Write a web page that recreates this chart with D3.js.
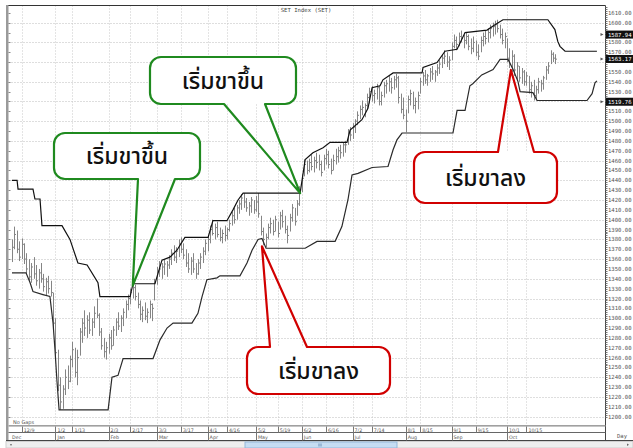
<!DOCTYPE html>
<html><head><meta charset="utf-8">
<script src="https://cdn.jsdelivr.net/npm/d3@7"></script>
<style>body{margin:0;background:#fff}svg{display:block}</style>
</head><body><svg id="c" width="633" height="448"></svg>
<script>
// ---- data ----
const highs=[1380,1393,1389,1378,1381,1376,1366,1360,1356,1362,
1354,1350,1356,1345,1341,1343,1338,1326,1300,1268,
1240,1232,1248,1252,1262,1276,1270,1268,1290,1300,
1308,1303,1306,1300,1312,1320,1305,1290,1280,1276,
1284,1288,1292,1300,1306,1303,1310,1318,1324,1330,
1336,1334,1326,1318,1312,1316,1310,1318,1315,1340,
1352,1358,1356,1360,1358,1364,1370,1374,1372,1380,
1382,1376,1370,1366,1362,1366,1356,1360,1366,1372,
1380,1384,1394,1400,1396,1398,1392,1390,1394,1392,
1400,1408,1412,1415,1420,1426,1427,1422,1418,1423,
1420,1424,1427,1404,1392,1386,1396,1402,1400,1404,
1398,1408,1410,1404,1394,1406,1416,1412,1420,1434,
1446,1461,1460,1462,1466,1464,1468,1466,1460,1466,
1472,1470,1462,1466,1472,1474,1476,1478,1480,1492,
1494,1498,1502,1510,1516,1521,1518,1528,1534,1536,
1532,1538,1536,1530,1540,1542,1546,1544,1546,1548,
1546,1528,1524,1512,1526,1532,1530,1524,1530,1544,
1550,1552,1548,1554,1556,1552,1558,1562,1568,1572,
1570,1566,1580,1588,1586,1590,1592,1588,1590,1588,
1584,1586,1582,1578,1586,1590,1592,1594,1598,1600,
1602,1603,1598,1594,1590,1584,1574,1572,1568,1560,
1556,1554,1552,1550,1546,1540,1542,1536,1544,1542,
1546,1556,1560,1572,1570,1568];
const lows=[1357,1370,1366,1358,1360,1355,1345,1338,1336,1340,
1333,1330,1336,1327,1323,1325,1322,1290,1258,1226,
1207,1208,1222,1228,1235,1250,1240,1232,1262,1275,
1282,1280,1284,1282,1290,1300,1282,1268,1260,1258,
1264,1268,1272,1282,1288,1286,1292,1300,1308,1314,
1320,1318,1310,1298,1296,1298,1295,1300,1297,1318,
1334,1342,1340,1344,1342,1350,1354,1358,1356,1362,
1366,1360,1352,1346,1344,1346,1340,1344,1350,1356,
1364,1368,1376,1384,1380,1382,1378,1376,1378,1380,
1388,1394,1396,1400,1406,1410,1412,1408,1404,1407,
1406,1408,1402,1384,1374,1372,1380,1386,1384,1388,
1382,1390,1392,1386,1376,1388,1398,1394,1404,1414,
1428,1444,1446,1448,1450,1448,1452,1450,1444,1450,
1456,1452,1446,1450,1456,1458,1462,1464,1468,1476,
1480,1482,1488,1496,1502,1506,1504,1512,1518,1520,
1518,1522,1516,1516,1524,1528,1530,1528,1532,1534,
1518,1508,1502,1489,1508,1516,1512,1508,1512,1528,
1536,1538,1536,1540,1542,1540,1546,1548,1554,1558,
1555,1552,1562,1574,1572,1576,1580,1574,1578,1572,
1568,1570,1566,1562,1570,1576,1578,1580,1584,1586,
1588,1590,1584,1578,1574,1560,1554,1550,1546,1542,
1540,1538,1536,1536,1528,1524,1521,1522,1528,1530,
1532,1542,1548,1558,1560,1558];
const closes=[1372,1385,1370,1362,1375,1360,1350,1342,1352,1345,
1338,1346,1340,1332,1337,1330,1326,1295,1265,1232,
1215,1228,1240,1236,1258,1268,1245,1260,1286,1295,
1290,1298,1288,1296,1305,1303,1286,1272,1266,1270,
1280,1272,1288,1296,1292,1300,1306,1314,1320,1326,
1331,1322,1314,1304,1308,1302,1306,1314,1310,1336,
1348,1350,1352,1355,1354,1360,1366,1362,1368,1376,
1370,1364,1356,1350,1358,1350,1345,1356,1362,1368,
1376,1380,1390,1386,1392,1385,1382,1386,1384,1390,
1396,1404,1400,1412,1416,1422,1418,1412,1414,1420,
1410,1418,1406,1388,1380,1382,1392,1396,1388,1400,
1386,1404,1398,1390,1384,1402,1412,1398,1416,1428,
1442,1456,1450,1458,1454,1460,1458,1456,1448,1462,
1466,1456,1450,1460,1464,1470,1468,1476,1476,1488,
1486,1494,1500,1506,1512,1514,1516,1524,1530,1526,
1528,1534,1520,1526,1536,1538,1540,1534,1542,1544,
1524,1512,1506,1500,1522,1528,1516,1520,1526,1540,
1546,1542,1546,1550,1548,1550,1554,1558,1564,1566,
1560,1562,1576,1582,1578,1586,1584,1582,1586,1576,
1574,1580,1570,1566,1582,1586,1584,1590,1594,1596,
1598,1594,1588,1582,1586,1564,1558,1566,1552,1556,
1544,1550,1540,1546,1532,1536,1526,1532,1540,1538,
1544,1552,1556,1568,1564,1563];

// channel lines: vertices (bar index, value)
const upperIdx=[0,2.1,2.5,8.7,9.5,11.6,12.4,20.7,24,27.3,31.1,35.6,36.4,48.9,50.1,59.2,62.1,65.4,68.3,71.6,81.2,83.2,89,91.5,93.6,95.7,119.3,121.4,124.6,128.8,131.7,138.7,140,144.9,147.4,149.1,152.4,153.6,157.8,169.8,170.2,176,179.3,184.3,187.6,196.7,200,203.3,221.9,224.8,226,226.9,229,242.2];
const upperVal=[1440,1440,1431,1431,1421,1421,1394,1394,1380,1356,1354,1336,1322,1322,1335,1335,1359,1362,1369,1382,1382,1399,1399,1410,1420,1427,1427,1461,1468,1473,1478.5,1478.5,1491,1501.5,1513,1534,1536,1542,1549,1549,1554.5,1559.5,1571,1573,1590,1592.5,1598,1603,1603,1593,1581,1576,1571,1571];
const lowerIdx=[0,5.8,7.5,8.7,12.8,15.7,17,17.8,18.6,19.5,39.8,41.4,43.9,46,58.4,61.3,64.2,66.7,74.5,77,78.7,80.7,84.9,86.1,94.4,97.3,99.4,101.9,103.5,105.2,121.4,126.3,133.8,136.6,139.1,140.8,143.3,149.1,155.7,157.8,159.4,161.5,182.6,184.3,187.6,189.6,190.8,194.5,199.2,202.1,205.4,207.5,209.5,210.4,215.7,217.4,238.1,240.2,241.4,242.2];
const lowerVal=[1346,1346,1336,1327,1324,1322,1295,1268,1237,1207,1207,1240,1242,1259,1259,1278,1290,1295,1295,1305,1322,1339,1341,1343,1343,1356,1369,1380,1381,1371,1371,1378,1378,1393,1420,1445.5,1447,1453,1454,1471,1481,1488,1488,1511,1511,1536,1538,1547,1552.5,1562.7,1562.7,1552.5,1540.5,1530,1529,1521,1521,1528,1539,1541];

const dateTickIdx=[4,18,25,40,49,60,70,81,89,101,110,120,130,141,149,163,169,182,192,205,213];
const dateTickLabels=["12/9","1/2","1/13","2/3","2/17","3/3","3/17","4/1","4/16","5/2","5/19","6/2","6/16","7/2","7/14","8/1","8/15","9/1","9/15","10/1","10/15"];
const monthIdx=[0,18,40,60,81,101,120,141,163,182,205];
const monthLabels=["Dec","Jan","Feb","Mar","Apr","May","Jun","Jul","Aug","Sep","Oct"];
const tagValues=[1587.94,1563.17,1519.76];
const tagLabels=["1587.94","1563.17","1519.76"];

const calloutTexts=["เริ่มขาขึ้น","เริ่มขาขึ้น","เริ่มขาลง","เริ่มขาลง"];
const calloutTipIdx=[50,119.3,103.5,206.6];
const calloutTipVal=[1333,1427,1373,1552];

// ---- layout ----
const svg=d3.select("#c");
const x=d3.scaleLinear().domain([0,1]).range([12,14.415]);
const y=d3.scaleLinear().domain([1200,1600]).range([416.7,22.7]);
const L=8.5, R=605.5, T=5.5, B=425.5;

// plot gridlines
const grid=svg.append("g");
grid.selectAll("line.h").data(d3.range(1200,1601,20)).join("line")
  .attr("x1",L).attr("x2",R).attr("y1",d=>Math.round(y(d))+0.5).attr("y2",d=>Math.round(y(d))+0.5)
  .attr("stroke","#bdbdbd").attr("stroke-dasharray","1,2");
grid.selectAll("line.v").data(dateTickIdx).join("line")
  .attr("x1",d=>Math.round(x(d))+0.5).attr("x2",d=>Math.round(x(d))+0.5).attr("y1",T).attr("y2",B)
  .attr("stroke","#c8c8c8").attr("stroke-dasharray","1,2");

// bars
const bars=svg.append("g").attr("stroke","#858585").attr("stroke-width",1);
highs.forEach((h,i)=>{
  const xi=Math.round(x(i))+0.5;
  bars.append("line").attr("x1",xi).attr("x2",xi).attr("y1",y(h)).attr("y2",y(lows[i]));
  bars.append("line").attr("x1",xi).attr("x2",xi+1.5).attr("y1",y(closes[i])).attr("y2",y(closes[i]));
});

// channel lines
const line=d3.line().x(d=>x(d[0])).y(d=>y(d[1]));
svg.append("path").attr("d",line(upperIdx.map((d,i)=>[d,upperVal[i]])))
  .attr("fill","none").attr("stroke","#111").attr("stroke-width",1.2);
svg.append("path").attr("d",line(lowerIdx.map((d,i)=>[d,lowerVal[i]])))
  .attr("fill","none").attr("stroke","#2a2a2a").attr("stroke-width",1.2);

// frame
svg.append("line").attr("x1",6).attr("x2",R).attr("y1",T).attr("y2",T).attr("stroke","#333");
svg.append("rect").attr("x",6).attr("y",5).attr("width",2.5).attr("height",436).attr("fill","#9a9a9a");
svg.append("g").selectAll("line").data(d3.range(1200,1611,10)).join("line")
  .attr("x1",8.5).attr("x2",10.5).attr("y1",d=>Math.round(y(d))+0.5).attr("y2",d=>Math.round(y(d))+0.5)
  .attr("stroke","#888");
svg.append("line").attr("x1",R).attr("x2",R).attr("y1",T).attr("y2",441).attr("stroke","#444");

// right axis
const ax=svg.append("g");
ax.selectAll("line.mn").data(d3.range(1200,1617,2)).join("line")
  .attr("x1",R).attr("x2",R+2).attr("y1",d=>Math.round(y(d))+0.5).attr("y2",d=>Math.round(y(d))+0.5).attr("stroke","#777");
const tagYs=tagValues.map(v=>y(v));
const labelVals=d3.range(1200,1611,10).filter(v=>tagYs.every(t=>Math.abs(y(v)-t)>6));
ax.selectAll("text").data(labelVals).join("text")
  .attr("x",608).attr("y",d=>y(d)+2).attr("font-family","DejaVu Sans Mono").attr("font-size",5.6)
  .attr("fill","#555").text(d=>d3.format(".2f")(d));
tagValues.forEach((v,i)=>{
  const ty=y(v);
  ax.append("rect").attr("x",606).attr("y",ty-4).attr("width",27).attr("height",8).attr("fill","#111");
  ax.append("text").attr("x",608).attr("y",ty+2).attr("font-family","DejaVu Sans Mono").attr("font-size",5.6)
    .attr("fill","#fff").text(tagLabels[i]);
  ax.append("path").attr("d",`M${R-5},${ty-1.5}L${R-2},${ty}L${R-5},${ty+1.5}Z`).attr("fill","#555");
});

// title
svg.append("text").attr("x",306).attr("y",11.5).attr("text-anchor","middle")
  .attr("font-family","DejaVu Sans Mono").attr("font-size",5.6).attr("fill","#444").text("SET Index (SET)");

// bottom rows
svg.append("text").attr("x",13).attr("y",423.5).attr("font-family","DejaVu Sans").attr("font-size",5)
  .attr("fill","#555").text("No  Gaps");
svg.append("rect").attr("x",8.5).attr("y",425).attr("width",597).attr("height",1.6).attr("fill","#a0a0a0");
svg.append("line").attr("x1",8.5).attr("x2",R).attr("y1",432.5).attr("y2",432.5).attr("stroke","#666");
svg.append("line").attr("x1",6).attr("x2",633).attr("y1",440.7).attr("y2",440.7).attr("stroke","#444").attr("stroke-width",1.4);
const dt=svg.append("g");
dt.selectAll("line").data(dateTickIdx).join("line")
  .attr("x1",d=>Math.round(x(d))+0.5).attr("x2",d=>Math.round(x(d))+0.5).attr("y1",426.5).attr("y2",432.5).attr("stroke","#777");
dt.selectAll("text").data(dateTickIdx).join("text")
  .attr("x",d=>x(d)+2).attr("y",431.5).attr("font-family","DejaVu Sans").attr("font-size",4.8).attr("fill","#555")
  .text((d,i)=>dateTickLabels[i]);
const mt=svg.append("g");
mt.selectAll("line").data(monthIdx.slice(1)).join("line")
  .attr("x1",d=>Math.round(x(d))+0.5).attr("x2",d=>Math.round(x(d))+0.5).attr("y1",432.5).attr("y2",440.5).attr("stroke","#777");
mt.selectAll("text").data(monthIdx).join("text")
  .attr("x",(d,i)=>i===0?12:x(d)+2).attr("y",438.8).attr("font-family","DejaVu Sans").attr("font-size",4.8).attr("fill","#555")
  .text((d,i)=>monthLabels[i]);
svg.append("text").attr("x",617).attr("y",437.5).attr("font-family","DejaVu Sans Mono").attr("font-size",5.6)
  .attr("fill","#555").text("Day");

// scroll bar
svg.append("rect").attr("x",6).attr("y",441.5).attr("width",627).attr("height",6.5).attr("fill","#eeeeee").attr("stroke","#cfcfcf");
svg.append("rect").attr("x",245).attr("y",442).attr("width",152).attr("height",6).attr("fill","#c6ddf3").attr("stroke","#93b7da");
svg.append("path").attr("d","M12,444.8L10,444.8").attr("stroke","#666");
svg.append("path").attr("d","M627,443.5L629,444.8L627,446Z").attr("fill","#666");
svg.append("path").attr("d","M319,443.5V446.5M321,443.5V446.5").attr("stroke","#6d93ba");

// callouts
const boxes=[
  {x:54,y:133,w:146,h:46,b1:138,b2:175,side:"bottom",color:"#1f8a1f"},
  {x:150,y:57,w:146,h:47,b1:224,b2:265,side:"bottom",color:"#1f8a1f"},
  {x:247,y:347,w:143,h:47,b1:270,b2:307,side:"top",color:"#d10000"},
  {x:414,y:152,w:143,h:51,b1:498,b2:534,side:"top",color:"#d10000"}
];
const r=11;
boxes.forEach((b,i)=>{
  const tx=x(calloutTipIdx[i]), ty=y(calloutTipVal[i]);
  const g=svg.append("g");
  g.append("rect").attr("x",b.x).attr("y",b.y).attr("width",b.w).attr("height",b.h).attr("rx",r).attr("fill","#fff");
  let p;
  if(b.side==="bottom"){
    p=`M${b.x+r},${b.y}H${b.x+b.w-r}A${r},${r} 0 0 1 ${b.x+b.w},${b.y+r}V${b.y+b.h-r}A${r},${r} 0 0 1 ${b.x+b.w-r},${b.y+b.h}H${b.b2}L${tx},${ty}L${b.b1},${b.y+b.h}H${b.x+r}A${r},${r} 0 0 1 ${b.x},${b.y+b.h-r}V${b.y+r}A${r},${r} 0 0 1 ${b.x+r},${b.y}Z`;
  } else {
    p=`M${b.x+r},${b.y}H${b.b1}L${tx},${ty}L${b.b2},${b.y}H${b.x+b.w-r}A${r},${r} 0 0 1 ${b.x+b.w},${b.y+r}V${b.y+b.h-r}A${r},${r} 0 0 1 ${b.x+b.w-r},${b.y+b.h}H${b.x+r}A${r},${r} 0 0 1 ${b.x},${b.y+b.h-r}V${b.y+r}A${r},${r} 0 0 1 ${b.x+r},${b.y}Z`;
  }
  g.append("path").attr("d",p).attr("fill","none").attr("stroke",b.color).attr("stroke-width",2.2).attr("stroke-linejoin","round");
  g.append("text").attr("x",b.x+b.w/2).attr("y",b.y+b.h/2+8).attr("text-anchor","middle")
    .attr("font-family","'Noto Sans Thai','Noto Sans Thai Looped',Tahoma,'Noto Sans',sans-serif")
    .attr("font-size",23).attr("font-weight",500).attr("fill","#111").text(calloutTexts[i]);
});
</script></body></html>
